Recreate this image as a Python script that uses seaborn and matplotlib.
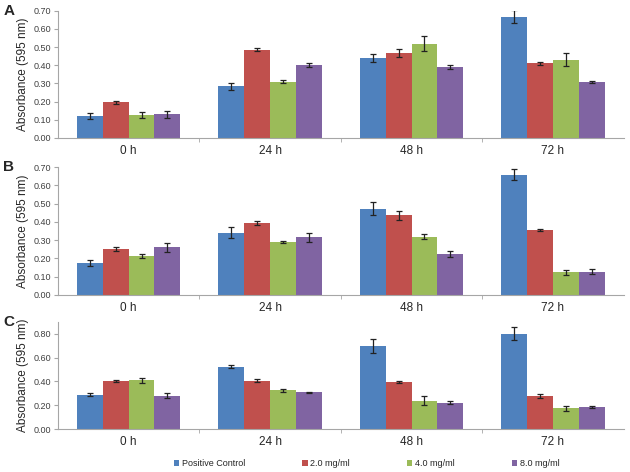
import matplotlib
matplotlib.use("Agg")
import matplotlib.pyplot as plt
import seaborn as sns
import numpy as np
import pandas as pd
from matplotlib.ticker import FormatStrFormatter, MultipleLocator, FixedLocator
from matplotlib.patches import Patch

sns.set_style("white")
plt.rcParams['font.family'] = ['Liberation Sans', 'DejaVu Sans']

times = ["0 h", "24 h", "48 h", "72 h"]
groups = ["Positive Control", "2.0 mg/ml", "4.0 mg/ml", "8.0 mg/ml"]
colors = ["#4F81BD", "#C0504D", "#9BBB59", "#8064A2"]

A_vals = {
    "Positive Control": [0.12, 0.285, 0.44, 0.667],
    "2.0 mg/ml": [0.195, 0.485, 0.47, 0.41],
    "4.0 mg/ml": [0.125, 0.31, 0.52, 0.43],
    "8.0 mg/ml": [0.13, 0.40, 0.39, 0.307],
}
A_err = {
    "Positive Control": [0.015, 0.02, 0.022, 0.035],
    "2.0 mg/ml": [0.008, 0.008, 0.022, 0.01],
    "4.0 mg/ml": [0.015, 0.008, 0.04, 0.035],
    "8.0 mg/ml": [0.02, 0.01, 0.01, 0.005],
}
B_vals = {
    "Positive Control": [0.175, 0.34, 0.473, 0.658],
    "2.0 mg/ml": [0.25, 0.395, 0.437, 0.355],
    "4.0 mg/ml": [0.215, 0.29, 0.32, 0.124],
    "8.0 mg/ml": [0.26, 0.315, 0.225, 0.128],
}
B_err = {
    "Positive Control": [0.015, 0.03, 0.035, 0.03],
    "2.0 mg/ml": [0.01, 0.01, 0.025, 0.005],
    "4.0 mg/ml": [0.012, 0.008, 0.015, 0.015],
    "8.0 mg/ml": [0.025, 0.025, 0.015, 0.015],
}
C_vals = {
    "Positive Control": [0.29, 0.525, 0.70, 0.80],
    "2.0 mg/ml": [0.40, 0.405, 0.393, 0.28],
    "4.0 mg/ml": [0.41, 0.325, 0.238, 0.174],
    "8.0 mg/ml": [0.28, 0.31, 0.22, 0.185],
}
C_err = {
    "Positive Control": [0.015, 0.015, 0.06, 0.055],
    "2.0 mg/ml": [0.008, 0.012, 0.008, 0.015],
    "4.0 mg/ml": [0.02, 0.015, 0.04, 0.02],
    "8.0 mg/ml": [0.02, 0.005, 0.012, 0.01],
}

panels = [
    ("A", A_vals, A_err, 0.70, 0.10, [0.708, 0.977]),
    ("B", B_vals, B_err, 0.70, 0.10, [0.375, 0.646]),
    ("C", C_vals, C_err, 0.90, 0.20, [0.091, 0.318]),
]

fig = plt.figure(figsize=(6.3, 4.72), dpi=100)
left, right = 0.092, 0.99
gray = "#A6A6A6"

for letter, vals, errs, ymax, step, (b, t) in panels:
    ax = fig.add_axes([left, b, right - left, t - b])
    rows = []
    for g in groups:
        for i, tm in enumerate(times):
            rows.append({"time": tm, "group": g, "value": vals[g][i], "err": errs[g][i]})
    df = pd.DataFrame(rows)
    sns.barplot(data=df, x="time", y="value", hue="group", hue_order=groups,
                order=times, palette=colors, errorbar=None, width=0.73,
                saturation=1, ax=ax, legend=False, linewidth=0)
    bars = [p for p in ax.patches]
    k = 0
    for g in groups:
        for i, tm in enumerate(times):
            p = bars[k]
            k += 1
            xc = p.get_x() + p.get_width() / 2
            ax.errorbar(xc, p.get_height(), yerr=errs[g][i], color="#222222",
                        capsize=2.0, elinewidth=0.9, capthick=0.9, fmt="none")
    ax.set_xlim(-0.5, 3.5)
    ax.set_ylim(0, ymax)
    if letter == "C":
        ax.yaxis.set_major_locator(FixedLocator([0, 0.2, 0.4, 0.6, 0.8]))
    else:
        ax.yaxis.set_major_locator(MultipleLocator(step))
    ax.yaxis.set_major_formatter(FormatStrFormatter("%.2f"))
    ax.set_xlabel("")
    ax.set_ylabel("Absorbance (595 nm)", fontsize=8.5, labelpad=3)
    for s in ["top", "right"]:
        ax.spines[s].set_visible(False)
    for s in ["left", "bottom"]:
        ax.spines[s].set_color(gray)
        ax.spines[s].set_linewidth(0.8)
    ax.tick_params(axis="y", labelsize=6.5, labelcolor="#404040", length=3,
                   color=gray, direction="out", left=True, pad=2)
    ax.tick_params(axis="x", which="major", labelsize=8.5, length=0, pad=5)
    ax.xaxis.set_minor_locator(FixedLocator([0.5, 1.5, 2.5]))
    ax.tick_params(axis="x", which="minor", length=3, color=gray, direction="out", bottom=True)
    fig.text(0.005, t + 0.014, letter, fontsize=11, fontweight="bold", va="top", ha="left")

handles = [Patch(facecolor=c, edgecolor="none") for c in colors]
fig.legend(handles, groups, loc="center", bbox_to_anchor=(0.582, 0.018), ncol=4,
           frameon=False, fontsize=6.5, handlelength=0.6, handleheight=0.6,
           columnspacing=6.3, handletextpad=0.3)

fig.savefig("out.png", dpi=100)
